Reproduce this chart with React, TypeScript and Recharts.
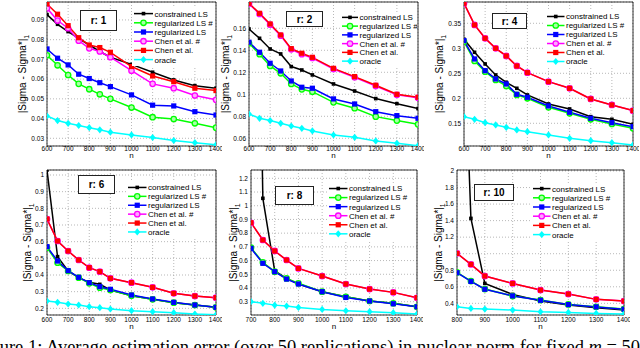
import React from 'react';
import { LineChart, Line, XAxis, YAxis, CartesianGrid, ReferenceArea, Legend } from 'recharts';

const FONT = '"Liberation Sans", Arial, Helvetica, sans-serif';

// sample sizes
const N_ALL = [600, 650, 700, 750, 800, 850, 900, 1000, 1100, 1200, 1300, 1400];
const N_R8 = [700, 750, 800, 850, 900, 1000, 1100, 1200, 1300, 1400];
const N_R10 = [800, 850, 900, 1000, 1100, 1200, 1300, 1400];

// tick labels
const XT_600 = [600, 700, 800, 900, 1000, 1100, 1200, 1300, 1400];
const XT_700 = [700, 800, 900, 1000, 1100, 1200, 1300, 1400];
const XT_800 = [800, 900, 1000, 1100, 1200, 1300, 1400];
const YT_R1 = [0.03, 0.04, 0.05, 0.06, 0.07, 0.08, 0.09];
const YT_R2 = [0.06, 0.08, 0.1, 0.12, 0.14, 0.16];
const YT_R4 = [0.15, 0.2, 0.25, 0.3, 0.35];
const YT_R6 = [0.2, 0.3, 0.4, 0.5, 0.6, 0.7, 0.8, 0.9, 1];
const YT_R8 = [0.3, 0.4, 0.5, 0.6, 0.7, 0.8, 0.9, 1, 1.1, 1.2];
const YT_R10 = [0.4, 0.6, 0.8, 1, 1.2, 1.4, 1.6, 1.8, 2];

// r: 1
const R1_CLS = [0.0927, 0.0878, 0.0841, 0.0807, 0.0773, 0.074, 0.0711, 0.0675, 0.0635, 0.0596, 0.0567, 0.0554];
const R1_RLSH = [0.0721, 0.067, 0.0621, 0.0576, 0.0549, 0.0523, 0.05, 0.0456, 0.0407, 0.0398, 0.0376, 0.0354];
const R1_RLS = [0.0753, 0.0706, 0.0672, 0.0625, 0.0603, 0.0582, 0.0562, 0.052, 0.0468, 0.0464, 0.0435, 0.0418];
const R1_CHENH = [0.0959, 0.0897, 0.0858, 0.0795, 0.0756, 0.074, 0.0711, 0.0643, 0.0576, 0.0554, 0.0517, 0.0495];
const R1_CHEN = [0.0981, 0.0929, 0.0871, 0.081, 0.0773, 0.076, 0.0736, 0.0664, 0.0616, 0.0587, 0.0554, 0.0542];
const R1_ORACLE = [0.0413, 0.039, 0.0376, 0.0365, 0.0354, 0.0343, 0.0331, 0.0317, 0.0304, 0.0289, 0.0278, 0.0267];

// r: 2
const R2_CLS = [0.1594, 0.1509, 0.1412, 0.1367, 0.1252, 0.1221, 0.1176, 0.1094, 0.103, 0.0961, 0.0915, 0.087];
const R2_RLSH = [0.1464, 0.1364, 0.1258, 0.1191, 0.1094, 0.1045, 0.1024, 0.0927, 0.0873, 0.0797, 0.0761, 0.0727];
const R2_RLS = [0.1473, 0.1382, 0.1282, 0.1212, 0.1121, 0.1064, 0.1055, 0.0958, 0.0912, 0.0842, 0.0806, 0.0782];
const R2_CHENH = [0.1822, 0.173, 0.1633, 0.1533, 0.1409, 0.1364, 0.133, 0.123, 0.1155, 0.1076, 0.0995, 0.0968];
const R2_CHEN = [0.1827, 0.1736, 0.1639, 0.1539, 0.1415, 0.1373, 0.1336, 0.1236, 0.1161, 0.1082, 0.1, 0.0973];
const R2_ORACLE = [0.0821, 0.0782, 0.0761, 0.0736, 0.0712, 0.0691, 0.0667, 0.063, 0.0609, 0.0576, 0.0555, 0.0533];

// r: 4
const R4_CLS = [0.318, 0.292, 0.2687, 0.2467, 0.232, 0.22, 0.2067, 0.1887, 0.1787, 0.1633, 0.158, 0.148];
const R4_RLSH = [0.3133, 0.2747, 0.2533, 0.2367, 0.2247, 0.2067, 0.2, 0.182, 0.17, 0.158, 0.1487, 0.14];
const R4_RLS = [0.3153, 0.2787, 0.2553, 0.2387, 0.2287, 0.208, 0.202, 0.1847, 0.172, 0.16, 0.1513, 0.1433];
const R4_CHENH = [0.39, 0.3467, 0.32, 0.3, 0.2847, 0.2647, 0.2513, 0.2333, 0.22, 0.1987, 0.1867, 0.1753];
const R4_CHEN = [0.39, 0.3467, 0.32, 0.3, 0.2847, 0.2647, 0.2513, 0.2333, 0.22, 0.1987, 0.1867, 0.1753];
const R4_ORACLE = [0.1633, 0.158, 0.1513, 0.1467, 0.142, 0.1367, 0.1333, 0.1267, 0.12, 0.1153, 0.1113, 0.1067];

// r: 6
const R6_CLS = [1.03, 0.51, 0.424, 0.384, 0.356, 0.344, 0.31, 0.276, 0.254, 0.234, 0.22, 0.206];
const R6_RLSH = [0.564, 0.474, 0.424, 0.384, 0.35, 0.324, 0.31, 0.276, 0.254, 0.234, 0.22, 0.206];
const R6_RLS = [0.57, 0.484, 0.426, 0.386, 0.354, 0.33, 0.314, 0.28, 0.256, 0.236, 0.22, 0.206];
const R6_CHENH = [0.736, 0.604, 0.544, 0.49, 0.444, 0.42, 0.38, 0.354, 0.326, 0.29, 0.274, 0.264];
const R6_CHEN = [0.736, 0.604, 0.544, 0.49, 0.444, 0.42, 0.38, 0.354, 0.326, 0.29, 0.274, 0.264];
const R6_ORACLE = [0.244, 0.236, 0.226, 0.22, 0.21, 0.204, 0.196, 0.186, 0.18, 0.174, 0.166, 0.161];

// r: 8
const R8_CLS = [6.0, 1.054, 0.524, 0.47, 0.429, 0.373, 0.336, 0.305, 0.288, 0.263];
const R8_RLSH = [0.694, 0.587, 0.519, 0.47, 0.434, 0.373, 0.336, 0.305, 0.288, 0.263];
const R8_RLS = [0.689, 0.58, 0.519, 0.465, 0.429, 0.373, 0.331, 0.305, 0.285, 0.263];
const R8_CHENH = [0.876, 0.75, 0.67, 0.604, 0.543, 0.487, 0.429, 0.392, 0.368, 0.329];
const R8_CHEN = [0.876, 0.75, 0.67, 0.604, 0.543, 0.487, 0.429, 0.392, 0.368, 0.329];
const R8_ORACLE = [0.3, 0.288, 0.275, 0.268, 0.258, 0.244, 0.234, 0.227, 0.22, 0.21];

// r: 10
const R10_CLS = [6.0, 1.427, 0.641, 0.508, 0.427, 0.379, 0.347, 0.319];
const R10_RLSH = [0.774, 0.669, 0.573, 0.488, 0.44, 0.387, 0.359, 0.331];
const R10_RLS = [0.77, 0.665, 0.57, 0.49, 0.437, 0.385, 0.357, 0.329];
const R10_CHENH = [1.004, 0.871, 0.73, 0.641, 0.56, 0.512, 0.448, 0.427];
const R10_CHEN = [1.004, 0.871, 0.73, 0.641, 0.56, 0.512, 0.448, 0.427];
const R10_ORACLE = [0.359, 0.339, 0.331, 0.319, 0.298, 0.29, 0.278, 0.27];

const SERIES = [
  { key: 'cls', name: 'constrained LS', color: '#000000', shape: 'dot', fill: '#000000' },
  { key: 'rlsh', name: 'regularized LS #', color: '#00ff00', shape: 'ring', fill: '#a8ffa8' },
  { key: 'rls', name: 'regularized LS', color: '#0000ff', shape: 'square', fill: '#0000ff' },
  { key: 'chenh', name: 'Chen et al. #', color: '#ff00ff', shape: 'ring', fill: '#ffa8ff' },
  { key: 'chen', name: 'Chen et al.', color: '#ff0000', shape: 'square', fill: '#ff0000' },
  { key: 'oracle', name: 'oracle', color: '#00ffff', shape: 'diamond', fill: '#00ffff' },
];

const PANELS = [
  {
    title: 'r: 1', n: N_ALL, xTicks: XT_600, yTicks: YT_R1, yDomain: [0.0261, 0.0991],
    values: { cls: R1_CLS, rlsh: R1_RLSH, rls: R1_RLS, chenh: R1_CHENH, chen: R1_CHEN, oracle: R1_ORACLE },
    plot: { x0: 47, y0: 2, x1: 216, y1: 146 }, yLabelX: 22, tickGap: 0.5, nGap: 11.5,
    legend: { lineX: 134, textX: 154.5, y: 14, dy: 9.2 }, box: { x: 80, y: 10, w: 37, h: 21 },
  },
  {
    title: 'r: 2', n: N_ALL, xTicks: XT_600, yTicks: YT_R2, yDomain: [0.053, 0.1839],
    values: { cls: R2_CLS, rlsh: R2_RLSH, rls: R2_RLS, chenh: R2_CHENH, chen: R2_CHEN, oracle: R2_ORACLE },
    plot: { x0: 249, y0: 2, x1: 418, y1: 146 }, yLabelX: 225, tickGap: 0.5, nGap: 11.5,
    legend: { lineX: 342, textX: 359.5, y: 17.3, dy: 8.75 }, box: { x: 286, y: 11, w: 37, h: 16 },
  },
  {
    title: 'r: 4', n: N_ALL, xTicks: XT_600, yTicks: YT_R4, yDomain: [0.1046, 0.3926],
    values: { cls: R4_CLS, rlsh: R4_RLSH, rls: R4_RLS, chenh: R4_CHENH, chen: R4_CHEN, oracle: R4_ORACLE },
    plot: { x0: 464, y0: 2, x1: 633, y1: 146 }, yLabelX: 439, tickGap: 0.5, nGap: 11.5,
    legend: { lineX: 547, textX: 566, y: 16, dy: 9 }, box: { x: 492, y: 12.7, w: 35, h: 16.7 },
  },
  {
    title: 'r: 6', n: N_ALL, xTicks: XT_600, yTicks: YT_R6, yDomain: [0.16, 1.03],
    values: { cls: R6_CLS, rlsh: R6_RLSH, rls: R6_RLS, chenh: R6_CHENH, chen: R6_CHEN, oracle: R6_ORACLE },
    plot: { x0: 47, y0: 170, x1: 216, y1: 315 }, yLabelX: 27, tickGap: 2, nGap: 14,
    legend: { lineX: 128, textX: 148, y: 187.3, dy: 8.9 }, box: { x: 78, y: 175, w: 37, h: 19 },
  },
  {
    title: 'r: 8', n: N_R8, xTicks: XT_700, yTicks: YT_R8, yDomain: [0.203, 1.2606],
    values: { cls: R8_CLS, rlsh: R8_RLSH, rls: R8_RLS, chenh: R8_CHENH, chen: R8_CHEN, oracle: R8_ORACLE },
    plot: { x0: 251, y0: 170, x1: 417, y1: 315 }, yLabelX: 233, tickGap: 2, nGap: 14,
    legend: { lineX: 329, textX: 349, y: 189, dy: 9.06 }, box: { x: 275, y: 186, w: 39, h: 18.5 },
  },
  {
    title: 'r: 10', n: N_R10, xTicks: XT_800, yTicks: YT_R10, yDomain: [0.259, 2.012], hideOne: true,
    values: { cls: R10_CLS, rlsh: R10_RLSH, rls: R10_RLS, chenh: R10_CHENH, chen: R10_CHEN, oracle: R10_ORACLE },
    plot: { x0: 457, y0: 170, x1: 624, y1: 315 }, yLabelX: 438, tickGap: 2, nGap: 14,
    legend: { lineX: 533, textX: 552, y: 189, dy: 9.2 }, box: { x: 474, y: 184, w: 40, h: 17 },
  },
];

const YW = 46;
const MT = 3;
const MR = 6;
const XH = 24;

function Marker({ cx, cy, s }: any) {
  if (cx == null || cy == null || Number.isNaN(cx) || Number.isNaN(cy)) return null;
  if (s.shape === 'dot') {
    return <rect x={cx - 1.8} y={cy - 1.8} width={3.6} height={3.6} fill={s.color} />;
  }
  if (s.shape === 'square') {
    return <rect x={cx - 2.6} y={cy - 2.6} width={5.2} height={5.2} fill={s.color} />;
  }
  if (s.shape === 'ring') {
    return <circle cx={cx} cy={cy} r={2.7} fill={s.fill} stroke={s.color} strokeWidth={1.3} />;
  }
  return (
    <path
      d={`M${cx} ${cy - 3.6}L${cx + 3} ${cy}L${cx} ${cy + 3.6}L${cx - 3} ${cy}Z`}
      fill={s.color}
    />
  );
}

function PanelLegend({ p }: any) {
  const lg = p.legend;
  const bx = lg.lineX - 2;
  const by = lg.y - lg.dy / 2 - 1;
  const w = p.plot.x1 - bx - 1;
  const h = lg.dy * SERIES.length + 2;
  return (
    <svg width={w} height={h} style={{ display: 'block', background: '#fff' }}>
      {SERIES.map((s, i) => {
        const cy = lg.y - by + i * lg.dy;
        const lx0 = lg.lineX - bx;
        const lx1 = lg.textX - 1.5 - bx;
        return (
          <g key={s.key}>
            <line x1={lx0} x2={lx1} y1={cy} y2={cy} stroke={s.color} strokeWidth={1.5} />
            <Marker cx={(lx0 + lx1) / 2} cy={cy} s={s} />
            <text x={lg.textX - bx} y={cy + 2.9} fontSize={8} fontFamily={FONT} fill="#000">
              {s.name}
            </text>
          </g>
        );
      })}
    </svg>
  );
}

function Panel({ p }: any) {
  const { x0, y0, x1, y1 } = p.plot;
  const left = x0 - YW;
  const top = y0 - MT;
  const width = x1 - x0 + YW + MR;
  const height = y1 - y0 + MT + XH;
  const xDomain = [p.xTicks[0], 1400];
  const rows = p.n.map((n: number, i: number) => {
    const r: any = { n };
    SERIES.forEach((s) => {
      r[s.key] = p.values[s.key][i];
    });
    return r;
  });
  const lg = p.legend;
  const legLeft = lg.lineX - 2 - left;
  const legTop = lg.y - lg.dy / 2 - 1 - top;
  const yMid = MT + (y1 - y0) / 2;
  const lx = p.yLabelX - left + 3.5;

  return (
    <div style={{ position: 'absolute', left, top }}>
      <LineChart width={width} height={height} data={rows} margin={{ top: MT, right: MR, left: 0, bottom: 0 }}>
        <CartesianGrid stroke="#9a9a9a" strokeDasharray="1 2" strokeWidth={0.7} />
        <XAxis
          dataKey="n"
          type="number"
          domain={xDomain}
          ticks={p.xTicks}
          interval={0}
          allowDataOverflow
          height={XH}
          axisLine={false}
          tickLine={false}
          tickSize={0}
          tickMargin={p.tickGap}
          tick={{ fontSize: 6.5, fill: '#000', fontFamily: FONT }}
          label={{
            content: () => (
              <text x={YW + (x1 - x0) / 2} y={MT + (y1 - y0) + p.nGap} textAnchor="middle" fontSize={8} fontFamily={FONT} fill="#000">
                n
              </text>
            ),
          }}
        />
        <YAxis
          type="number"
          domain={p.yDomain}
          ticks={p.yTicks}
          interval={0}
          allowDataOverflow
          width={YW}
          axisLine={false}
          tickLine={false}
          tickSize={0}
          tickMargin={3}
          tick={{ fontSize: 6.5, fill: '#000', fontFamily: FONT }}
          tickFormatter={(v: number) => (p.hideOne && v === 1 ? '' : String(v))}
          label={{
            content: () => (
              <text
                x={lx}
                y={yMid}
                transform={`rotate(-90 ${lx} ${yMid})`}
                textAnchor="middle"
                fontSize={10}
                fontFamily={FONT}
                fill="#000"
              >
                |Sigma - Sigma*|<tspan fontSize={7} dy={3}>1</tspan>
              </text>
            ),
          }}
        />
        <ReferenceArea
          x1={xDomain[0]}
          x2={xDomain[1]}
          y1={p.yDomain[0]}
          y2={p.yDomain[1]}
          fill="none"
          stroke="#000"
          strokeWidth={0.8}
          ifOverflow="visible"
        />
        {SERIES.map((s) => (
          <Line
            key={s.key}
            dataKey={s.key}
            name={s.name}
            type="linear"
            stroke={s.color}
            strokeWidth={1.5}
            isAnimationActive={false}
            activeDot={false}
            dot={(d: any) => (
              <g key={`${s.key}-${d.index}`}>
                <Marker cx={d.cx} cy={d.cy} s={s} />
              </g>
            )}
          />
        ))}
        <Legend
          layout="vertical"
          align="center"
          verticalAlign="middle"
          content={() => <PanelLegend p={p} />}
          wrapperStyle={{ left: legLeft, top: legTop, width: 'auto', height: 'auto', margin: 0 }}
        />
      </LineChart>
    </div>
  );
}

export default function App() {
  return (
    <div
      style={{
        position: 'absolute',
        left: 0,
        top: 0,
        width: 640,
        height: 348,
        overflow: 'hidden',
        background: '#fff',
      }}
    >
      {PANELS.map((p) => (
        <Panel key={p.title} p={p} />
      ))}
      {PANELS.map((p) => (
        <div
          key={p.title + '-box'}
          style={{
            position: 'absolute',
            left: p.box.x,
            top: p.box.y,
            width: p.box.w,
            height: p.box.h,
            boxSizing: 'border-box',
            border: '1px solid #222',
            background: '#fff',
            display: 'flex',
            alignItems: 'center',
            justifyContent: 'center',
            fontFamily: FONT,
            fontWeight: 'bold',
            fontSize: 10,
            color: '#000',
          }}
        >
          {p.title}
        </div>
      ))}
      <div
        style={{
          position: 'absolute',
          left: -25,
          top: 338,
          whiteSpace: 'nowrap',
          fontFamily: '"Liberation Serif", "Times New Roman", serif',
          fontSize: 18.5,
          lineHeight: 1,
          color: '#000',
        }}
      >
        Figure 1: Average estimation error (over 50 replications) in nuclear norm for fixed <i>m</i> = 50
      </div>
    </div>
  );
}
